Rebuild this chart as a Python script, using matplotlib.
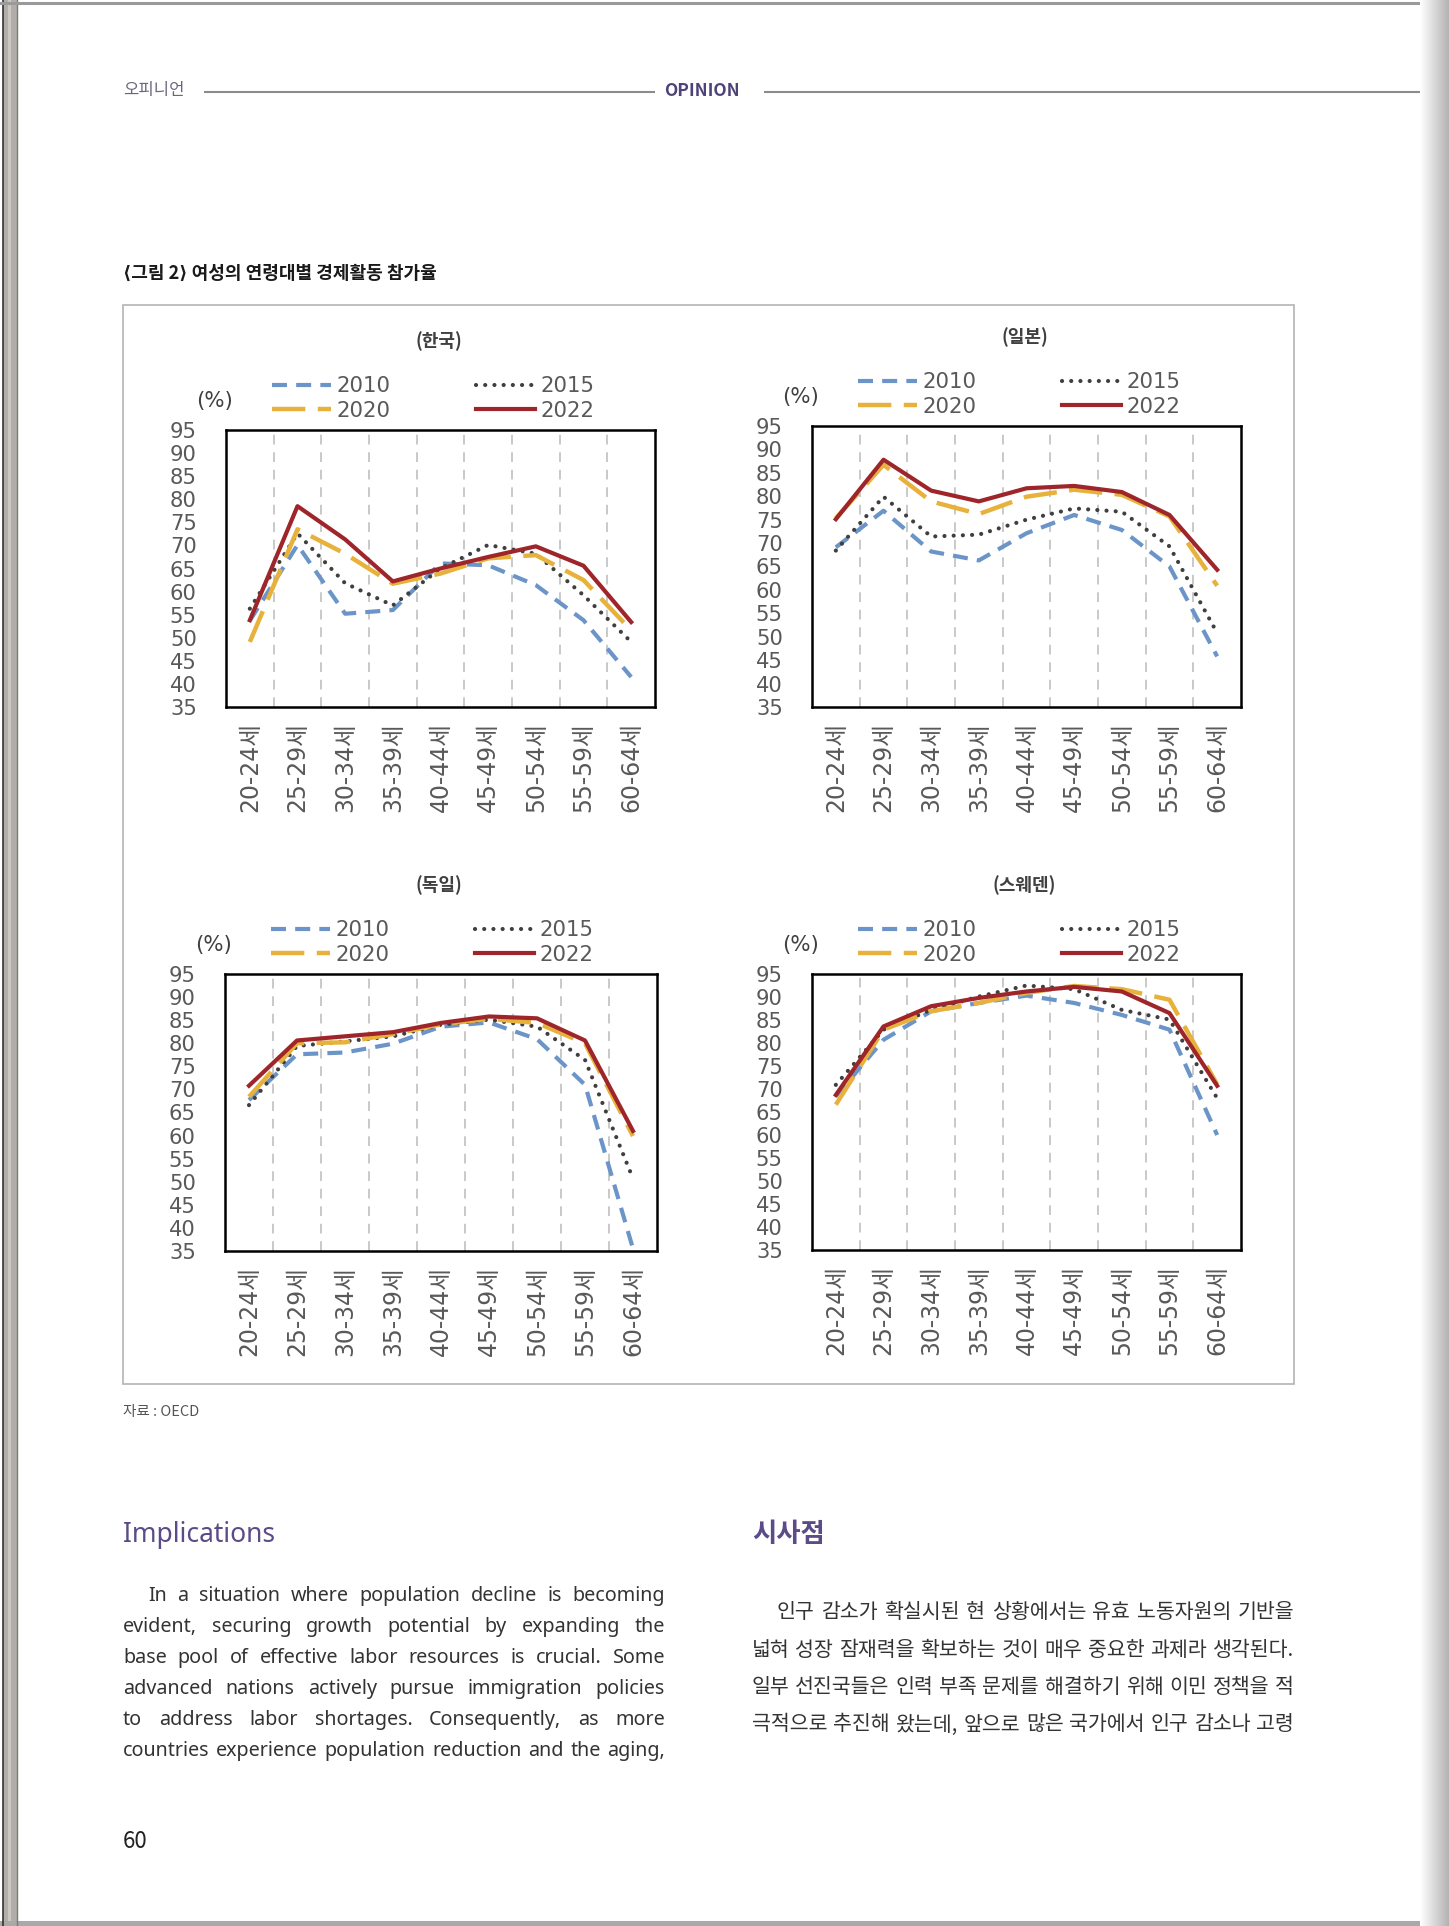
import numpy as np
import matplotlib
matplotlib.use('Agg')
import matplotlib.pyplot as plt
from matplotlib.patches import Rectangle

plt.rcParams['font.family'] = ['Noto Sans CJK KR', 'DejaVu Sans']
chart_font = ['DejaVu Sans', 'Noto Sans CJK KR']

# age groups and years
ages = ['20-24세', '25-29세', '30-34세', '35-39세', '40-44세',
        '45-49세', '50-54세', '55-59세', '60-64세']
years = ['2010', '2015', '2020', '2022']
yticks = list(range(35, 96, 5))

# 한국
kor_2010 = [53.7, 70.1, 55.2, 56.0, 66.1, 65.7, 61.4, 53.8, 41.5]
kor_2015 = [56.3, 72.6, 61.8, 57.0, 65.0, 70.1, 68.2, 59.2, 49.1]
kor_2020 = [49.1, 73.5, 68.2, 61.7, 63.9, 67.2, 67.9, 62.5, 51.6]
kor_2022 = [53.8, 78.5, 71.3, 62.2, 65.0, 67.5, 69.8, 65.6, 53.4]
# 일본
jpn_2010 = [69.1, 76.9, 68.2, 66.3, 72.1, 76.0, 72.8, 65.0, 45.8]
jpn_2015 = [68.4, 79.9, 71.4, 71.8, 75.0, 77.4, 76.7, 69.3, 50.8]
jpn_2020 = [75.3, 86.7, 78.9, 76.2, 79.9, 81.4, 80.3, 75.7, 60.9]
jpn_2022 = [75.1, 87.8, 81.2, 78.9, 81.7, 82.2, 80.9, 76.0, 64.3]
# 독일
deu_2010 = [67.7, 77.6, 78.0, 79.9, 83.6, 84.5, 80.9, 71.0, 35.5]
deu_2015 = [66.6, 79.4, 80.4, 81.5, 84.0, 85.1, 83.6, 76.4, 50.7]
deu_2020 = [68.4, 80.0, 80.2, 82.0, 84.1, 85.3, 84.4, 80.0, 59.9]
deu_2022 = [70.8, 80.6, 81.5, 82.4, 84.4, 85.8, 85.4, 80.6, 61.0]
# 스웨덴
swe_2010 = [68.4, 80.7, 86.9, 88.7, 90.3, 88.7, 86.1, 82.9, 60.0]
swe_2015 = [70.9, 82.9, 87.2, 90.1, 92.5, 91.7, 87.2, 85.1, 68.0]
swe_2020 = [66.6, 82.9, 86.9, 88.7, 90.9, 92.4, 91.7, 89.4, 71.0]
swe_2022 = [68.7, 83.6, 88.0, 89.8, 91.2, 92.2, 91.2, 86.5, 70.7]

W, H = 1449, 1926
fig = plt.figure(figsize=(W / 100, H / 100), dpi=100)
fig.patch.set_facecolor('white')

# background axes in pixel coordinates for the page
bg = fig.add_axes([0, 0, 1, 1])
bg.set_xlim(0, W)
bg.set_ylim(H, 0)
bg.axis('off')
bg.set_zorder(0)
renderer = fig.canvas.get_renderer()


def text_width(s, size, **kw):
    t = bg.text(0, 0, s, fontsize=size, **kw)
    w = t.get_window_extent(renderer).width
    t.remove()
    return w


def size_for(s, target, lo, hi, **kw):
    return float(np.clip(15 * target / text_width(s, 15, **kw), lo, hi))


# font sizes chosen so that sample strings take the width seen in the page
ytick_size = size_for('95', 27, 14, 17, family=chart_font)
xtick_size = size_for('20-24세', 90, 14, 17, family=chart_font)
leg_size = size_for('2010', 54, 14, 17, family=chart_font)

styles = {
    '2010': dict(color='#6b95c8', lw=3.0, ls=(0, (3.6, 2.2)), dash_capstyle='butt'),
    '2015': dict(color='#3f3f3f', lw=3.0, ls=(0, (0.01, 2.2)), dash_capstyle='round'),
    '2020': dict(color='#e8b13c', lw=3.2, ls=(0, (7.5, 2.8)), dash_capstyle='butt'),
    '2022': dict(color='#9e2529', lw=3.0, ls='-'),
}


def px_axes(x0, y0, x1, y1):
    return fig.add_axes([x0 / W, 1 - y1 / H, (x1 - x0) / W, (y1 - y0) / H])


def draw_panel(box, title, series):
    x0, y0, x1, y1 = box
    ax = px_axes(x0, y0, x1, y1)
    ax.set_zorder(2)
    x = np.arange(len(ages))
    lines = {}
    for yr, vals in zip(years, series):
        ln, = ax.plot(x, vals, label=yr, **styles[yr])
        lines[yr] = ln
    for b in np.arange(0.5, len(ages) - 1, 1):
        ax.axvline(b, color='#c9c9c9', lw=1.4, ls=(0, (5, 4)), zorder=0)
    ax.set_xlim(-0.5, len(ages) - 0.5)
    ax.set_ylim(35, 95)
    ax.set_yticks(yticks)
    ax.set_yticklabels([str(v) for v in yticks], family=chart_font,
                       fontsize=ytick_size, color='#595959')
    ax.set_xticks(x)
    ax.set_xticklabels(ages, rotation=90, family=chart_font,
                       fontsize=xtick_size, color='#595959')
    ax.tick_params(axis='both', length=0)
    ax.tick_params(axis='y', pad=21)
    ax.tick_params(axis='x', pad=11)
    for sp in ax.spines.values():
        sp.set_color('black')
        sp.set_linewidth(1.8)
    order = ['2010', '2020', '2015', '2022']
    hl = 59 / (leg_size * 100 / 72)
    cs = 86 / (leg_size * 100 / 72)
    ax.legend([lines[k] for k in order], order, ncol=2, frameon=False,
              loc='upper left', bbox_to_anchor=(x0 + 46, y0 - 54),
              bbox_transform=bg.transData, borderpad=0, borderaxespad=0,
              prop={'family': chart_font, 'size': leg_size},
              labelcolor='#595959', handlelength=hl, handletextpad=0.25,
              columnspacing=cs, labelspacing=0.22)
    bg.text(x0 - 11, y0 - 29, '(%)', fontsize=leg_size, color='#404040',
            ha='center', va='center', family=chart_font)
    bg.text((x0 + x1) / 2 - 2, y0 - 89, title, fontsize=13, fontweight='bold',
            color='#404040', ha='center', va='center')
    return ax


# page edges
bg.add_patch(Rectangle((3, 0), 14, H, fc='#b2ada8', ec='none'))
bg.add_patch(Rectangle((8, 0), 3, H, fc='#cbc7c3', ec='none'))
bg.plot([3, 3], [0, H], color='#333333', lw=1.2)
bg.plot([17, 17], [0, H], color='#7a7a7a', lw=1.0)
bg.plot([0, W], [3, 3], color='#9a9a9a', lw=2.2)
bg.add_patch(Rectangle((0, 1921), W, 5, fc='#a9a9a9', ec='none'))
grad = np.linspace(1.0, 0.70, 60).reshape(1, -1)
bg.imshow(grad, extent=[1420, W, H, 0], cmap='gray', vmin=0, vmax=1,
          aspect='auto', zorder=5)

# header
bg.text(123, 91, '오피니언', fontsize=12, color='#6a6580', va='center')
bg.plot([205, 654], [92, 92], color='#8c8c8c', lw=1.5)
bg.text(664, 91, 'OPINION', fontsize=12.5, fontweight='bold', color='#4e4378',
        va='center')
bg.plot([765, W], [92, 92], color='#8c8c8c', lw=1.5)

# caption and figure box
bg.text(123, 273, '⟨그림 2⟩ 여성의 연령대별 경제활동 참가율', fontsize=13,
        fontweight='bold', color='#1a1a1a', va='center',
        family=['Noto Sans CJK KR', 'DejaVu Sans'])
bg.add_patch(Rectangle((123, 305), 1294 - 123, 1384 - 305, fill=False,
                       ec='#b4b4b4', lw=1.2))

draw_panel((226, 430, 655, 707), '(한국)', [kor_2010, kor_2015, kor_2020, kor_2022])
draw_panel((812, 426, 1241, 707), '(일본)', [jpn_2010, jpn_2015, jpn_2020, jpn_2022])
draw_panel((225, 974, 657, 1251), '(독일)', [deu_2010, deu_2015, deu_2020, deu_2022])
draw_panel((812, 974, 1241, 1250), '(스웨덴)', [swe_2010, swe_2015, swe_2020, swe_2022])

bg.text(123, 1412, '자료 : OECD', fontsize=10.5, color='#555555', va='center')


# body text
def fit_size(lines, starts, x1, **kw):
    size = 100
    for ln, s in zip(lines, starts):
        w = text_width(ln, 10, **kw)
        size = min(size, 10 * (x1 - s) / w * 0.985)
    return size


def justify(line, x0, x1, y, **kw):
    words = line.split(' ')
    ts = [bg.text(0, y, w, va='center', ha='left', **kw) for w in words]
    widths = [t.get_window_extent(renderer).width for t in ts]
    gap = (x1 - x0 - sum(widths)) / max(len(words) - 1, 1)
    x = x0
    for t, w in zip(ts, widths):
        t.set_x(x)
        x += w + gap


bg.text(123, 1535, 'Implications', fontsize=19, color='#5b4c88', va='center',
        family=['Noto Sans', 'DejaVu Sans'])
bg.text(752, 1534, '시사점', fontsize=19, fontweight='bold', color='#5b4c88',
        va='center')

eng_lines = [
    'In a situation where population decline is becoming',
    'evident, securing growth potential by expanding the',
    'base pool of effective labor resources is crucial. Some',
    'advanced nations actively pursue immigration policies',
    'to address labor shortages. Consequently, as more',
    'countries experience population reduction and the aging,',
]
eng_starts = [148] + [123] * 5
eng_kw = dict(color='#333333', family=['Noto Sans', 'DejaVu Sans'])
eng_size = min(fit_size(eng_lines, eng_starts, 665, **eng_kw), 15)
for i, ln in enumerate(eng_lines):
    justify(ln, eng_starts[i], 665, 1596 + i * 31, fontsize=eng_size, **eng_kw)

kor_lines = [
    '인구 감소가 확실시된 현 상황에서는 유효 노동자원의 기반을',
    '넓혀 성장 잠재력을 확보하는 것이 매우 중요한 과제라 생각된다.',
    '일부 선진국들은 인력 부족 문제를 해결하기 위해 이민 정책을 적',
    '극적으로 추진해 왔는데, 앞으로 많은 국가에서 인구 감소나 고령',
]
kor_starts = [777] + [752] * 3
kor_kw = dict(color='#333333')
kor_size = min(fit_size(kor_lines, kor_starts, 1294, **kor_kw), 15)
for i, ln in enumerate(kor_lines):
    justify(ln, kor_starts[i], 1294, 1612 + i * 37.5, fontsize=kor_size, **kor_kw)

bg.text(123, 1842, '60', fontsize=16, color='#222222', va='center')

fig.savefig('out.png', dpi=100)
